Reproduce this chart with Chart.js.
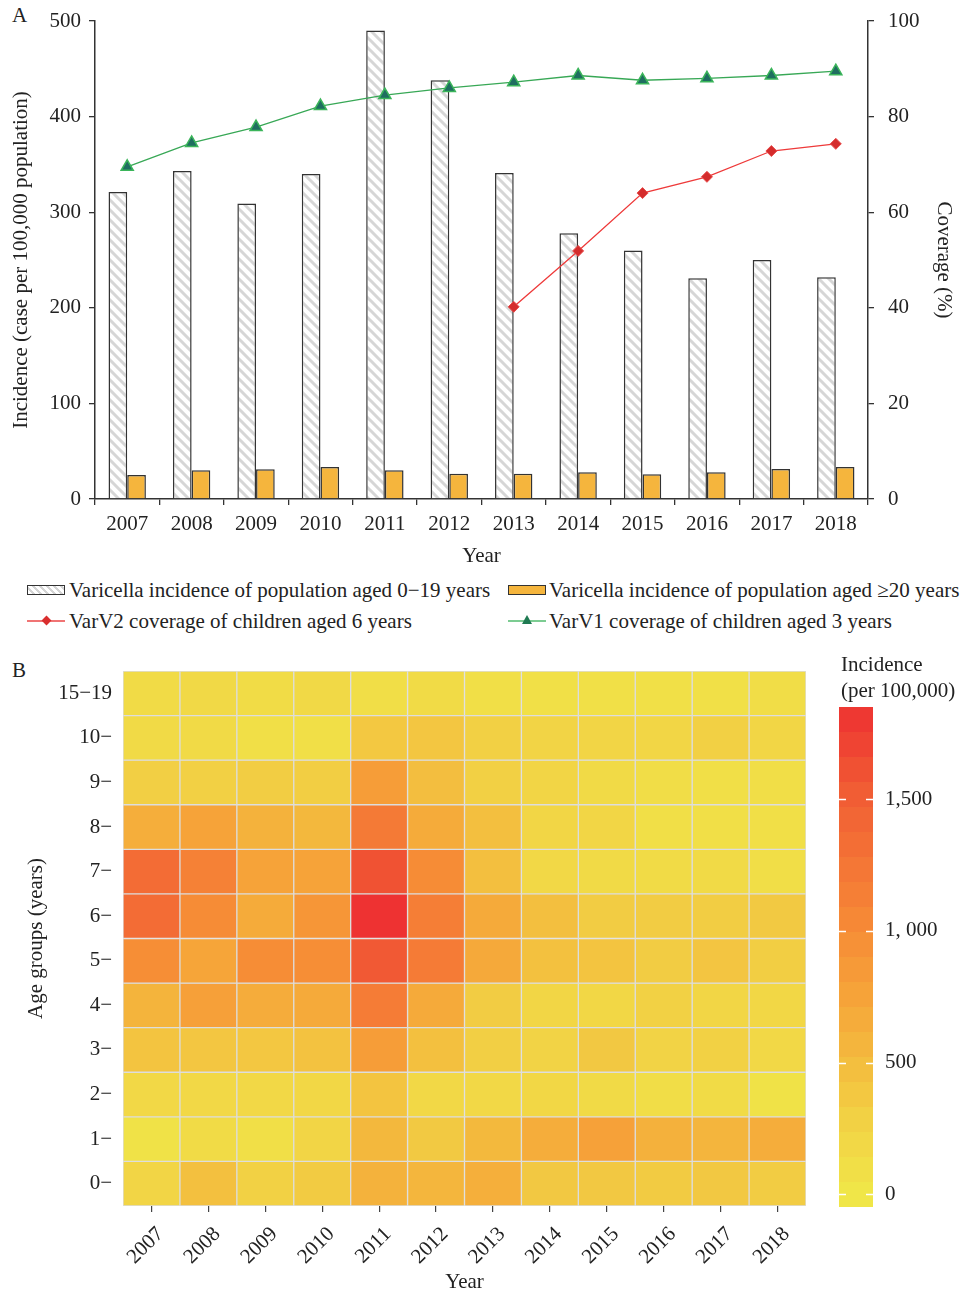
<!DOCTYPE html>
<html>
<head>
<meta charset="utf-8">
<script src="https://cdn.jsdelivr.net/npm/chart.js@4.4.1/dist/chart.umd.min.js"></script>
<style>
  body { margin: 0; background: #fff; width: 967px; height: 1295px; position: relative; overflow: hidden;
         font-family: 'Liberation Serif', 'Times New Roman', serif; color: #222; }
  .abs { position: absolute; }
  .txt { font-size: 21px; line-height: 24px; white-space: nowrap; }
  .hatch { background: repeating-linear-gradient(45deg, #fff 0 3px, #d4d4d4 3px 5px); border: 1px solid #333; box-sizing: border-box; }
  .orange { background: #f5b53d; border: 1.5px solid #333; box-sizing: border-box; }
</style>
</head>
<body>

<div class="abs txt" style="left:12px;top:3px">A</div>
<canvas id="chartA" class="abs" width="967" height="570" style="left:0;top:0"></canvas>

<!-- legend of panel A -->
<div class="abs hatch" style="left:27px;top:585px;width:38px;height:10px"></div>
<div class="abs txt" style="left:69px;top:578px">Varicella incidence of population aged 0−19 years</div>
<div class="abs orange" style="left:508px;top:585px;width:38px;height:10px"></div>
<div class="abs txt" style="left:549px;top:578px">Varicella incidence of population aged ≥20 years</div>

<div class="abs" style="left:27px;top:620px;width:38px;height:2px;background:#f07474"></div>
<div class="abs" style="left:43px;top:617px;width:7px;height:7px;background:#d92e2e;transform:rotate(45deg)"></div>
<div class="abs txt" style="left:69px;top:609px">VarV2 coverage of children aged 6 years</div>
<div class="abs" style="left:508px;top:620px;width:38px;height:2px;background:#7ccc92"></div>
<div class="abs" style="left:522px;top:615px;width:0;height:0;border-left:5px solid transparent;border-right:5px solid transparent;border-bottom:9px solid #1f7a52"></div>
<div class="abs txt" style="left:549px;top:609px">VarV1 coverage of children aged 3 years</div>

<div class="abs txt" style="left:12px;top:658px">B</div>
<canvas id="heat" class="abs" width="830" height="655" style="left:0;top:640px"></canvas>
<canvas id="cbar" class="abs" width="128" height="520" style="left:839px;top:700px"></canvas>
<div class="abs txt" style="left:841px;top:651px;line-height:26px">Incidence<br>(per 100,000)</div>

<script>
// ---- panel A data ----
const YEARS    = [2007, 2008, 2009, 2010, 2011, 2012, 2013, 2014, 2015, 2016, 2017, 2018];
const INC_0_19 = [321, 343, 309, 340, 490, 438, 341, 278, 260, 231, 250, 232];
const INC_20   = [25, 30, 31, 33.5, 30, 26.5, 26.5, 28, 26, 28, 31.5, 33.5];
const VARV2    = [null, null, null, null, null, null, 40.2, 51.9, 64.0, 67.4, 72.8, 74.3];
const VARV1    = [69.5, 74.5, 77.8, 82.2, 84.5, 86.0, 87.2, 88.6, 87.6, 88.0, 88.6, 89.5];
const INC_TICKS = [0, 100, 200, 300, 400, 500];
const COV_TICKS = [0, 20, 40, 60, 80, 100];

// ---- panel B data: incidence per 100,000 by age group, 2007..2018 ----
const AGE_LABELS = ['0−', '1−', '2−', '3−', '4−', '5−', '6−', '7−', '8−', '9−', '10−', '15−19'];
const AGE_0   = [230, 460, 280, 340, 600, 560, 640, 370, 370, 340, 370, 330];
const AGE_1   = [60, 150, 100, 230, 540, 360, 530, 660, 780, 610, 570, 660];
const AGE_2   = [200, 200, 190, 210, 420, 190, 190, 210, 170, 120, 150, 60];
const AGE_3   = [420, 400, 390, 440, 820, 460, 300, 260, 370, 260, 280, 190];
const AGE_4   = [580, 790, 670, 690, 1170, 690, 330, 220, 210, 280, 220, 210];
const AGE_5   = [980, 740, 990, 980, 1550, 1180, 700, 450, 420, 330, 410, 310];
const AGE_6   = [1350, 1000, 680, 900, 1850, 1150, 690, 470, 330, 330, 320, 360];
const AGE_7   = [1350, 1120, 760, 760, 1600, 1000, 470, 190, 170, 150, 160, 110];
const AGE_8   = [650, 760, 600, 540, 1200, 680, 470, 220, 220, 100, 100, 100];
const AGE_9   = [300, 290, 320, 310, 820, 480, 290, 230, 160, 120, 100, 110];
const AGE_10  = [160, 160, 100, 100, 380, 400, 290, 250, 240, 220, 290, 220];
const AGE_15  = [150, 180, 140, 180, 110, 150, 100, 80, 80, 90, 90, 120];
const HEAT_ROWS = [AGE_0, AGE_1, AGE_2, AGE_3, AGE_4, AGE_5, AGE_6, AGE_7, AGE_8, AGE_9, AGE_10, AGE_15];

// colour scale and colour bar
const CSCALE_VALUES = [0, 250, 500, 750, 1000, 1250, 1500, 1850];
const CSCALE_COLORS = [[240,230,72],[242,212,69],[243,188,62],[246,164,57],[246,140,54],[244,117,54],[241,95,52],[238,50,50]];
const CB_MIN = -48, CB_MAX = 1850, CB_BANDS = 20;
const CB_TICKS = [0, 500, 1000, 1500];
const CB_TICK_LABELS = ['0', '500', '1, 000', '1,500'];

const FONT = { family: "'Liberation Serif', 'Times New Roman', serif", size: 21 };
const INK  = '#222';
Chart.defaults.font.family = FONT.family;
Chart.defaults.color = INK;

function colorFor(v) {
  const vs = CSCALE_VALUES, cs = CSCALE_COLORS;
  if (v <= vs[0]) return 'rgb(' + cs[0].join(',') + ')';
  for (let i = 1; i < vs.length; i++) {
    if (v <= vs[i]) {
      const t = (v - vs[i - 1]) / (vs[i] - vs[i - 1]);
      const c = cs[i - 1].map((a, k) => Math.round(a + (cs[i][k] - a) * t));
      return 'rgb(' + c.join(',') + ')';
    }
  }
  return 'rgb(' + cs[cs.length - 1].join(',') + ')';
}

function makeHatch() {
  const s = 10;
  const c = document.createElement('canvas');
  c.width = s; c.height = s;
  const g = c.getContext('2d');
  g.fillStyle = '#fff';
  g.fillRect(0, 0, s, s);
  g.strokeStyle = '#d6d6d6';
  g.lineWidth = 3;
  g.beginPath();
  g.moveTo(-1, -1); g.lineTo(s + 1, s + 1);
  g.moveTo(-2, s - 2); g.lineTo(2, s + 2);
  g.moveTo(s - 2, -2); g.lineTo(s + 2, 2);
  g.stroke();
  return g.createPattern(c, 'repeat');
}

const fixedTicks = list => scale => { scale.ticks = list.map(v => ({ value: v })); };
// fixed axis thickness, no extra room for end labels
const fixW = w => s => { s.width = w; s.paddingTop = 0; s.paddingBottom = 0; };
const fixH = h => s => { s.height = h; s.paddingLeft = 0; s.paddingRight = 0; };

// ============ Panel A ============
new Chart(document.getElementById('chartA'), {
  data: {
    labels: YEARS,
    datasets: [
      { type: 'bar', label: 'Varicella incidence of population aged 0−19 years', data: INC_0_19, yAxisID: 'y',
        backgroundColor: makeHatch(), borderColor: '#333', borderWidth: 1.5, order: 1,
        barPercentage: 1, categoryPercentage: 0.58 },
      { type: 'bar', label: 'Varicella incidence of population aged ≥20 years', data: INC_20, yAxisID: 'y',
        backgroundColor: '#f5b53d', borderColor: '#333', borderWidth: 1.5, order: 1,
        barPercentage: 1, categoryPercentage: 0.58 },
      { type: 'line', label: 'VarV2 coverage of children aged 6 years', data: VARV2, yAxisID: 'y1', order: 0,
        borderColor: '#ee3a3a', borderWidth: 1.3, pointStyle: 'rectRot', pointRadius: 5.5,
        pointBackgroundColor: '#d42c2c', pointBorderColor: '#e84a4a', pointBorderWidth: 1 },
      { type: 'line', label: 'VarV1 coverage of children aged 3 years', data: VARV1, yAxisID: 'y1', order: 0,
        borderColor: '#38a856', borderWidth: 1.3, pointStyle: 'triangle', pointRadius: 7,
        pointBackgroundColor: '#1f6e60', pointBorderColor: '#3bb55a', pointBorderWidth: 1.5 },
    ],
  },
  options: {
    responsive: false, animation: false,
    layout: { padding: { top: 21, left: 0, right: 0, bottom: 0 } },
    plugins: { legend: { display: false }, tooltip: { enabled: false } },
    scales: {
      x: {
        grid: { drawOnChartArea: false, tickLength: 6, color: '#333', lineWidth: 1.3, offset: true },
        border: { color: '#333', width: 1.5 },
        ticks: { font: FONT, color: INK, padding: 7, maxRotation: 0 },
        title: { display: true, text: 'Year', font: FONT, color: INK, padding: { top: 0, bottom: 1 } },
        afterFit: fixH(71),
      },
      y: {
        position: 'left', min: 0, max: 500, afterBuildTicks: fixedTicks(INC_TICKS),
        grid: { drawOnChartArea: false, tickLength: 6, color: '#333', lineWidth: 1.3 },
        border: { color: '#333', width: 1.5 },
        ticks: { font: FONT, color: INK, padding: 8 },
        title: { display: true, text: 'Incidence (case per 100,000 population)', font: FONT, color: INK, padding: { top: 9, bottom: 0 } },
        afterFit: fixW(95),
      },
      y1: {
        position: 'right', min: 0, max: 100, afterBuildTicks: fixedTicks(COV_TICKS),
        grid: { drawOnChartArea: false, tickLength: 6, color: '#333', lineWidth: 1.3 },
        border: { color: '#333', width: 1.5 },
        ticks: { font: FONT, color: INK, padding: 14 },
        title: { display: true, text: 'Coverage (%)', font: FONT, color: INK, padding: { top: 11, bottom: 0 } },
        afterFit: fixW(99),
      },
    },
  },
});

// ============ Panel B: heat map ============
new Chart(document.getElementById('heat'), {
  type: 'bar',
  data: {
    labels: AGE_LABELS,
    datasets: YEARS.map((yr, j) => ({
      label: String(yr),
      data: AGE_LABELS.map(() => [yr - 0.5, yr + 0.5]),
      backgroundColor: HEAT_ROWS.map(row => colorFor(row[j])),
      borderColor: '#dddddd', borderWidth: 1, borderSkipped: false,
      grouped: false, barPercentage: 1, categoryPercentage: 1,
    })),
  },
  options: {
    indexAxis: 'y', responsive: false, animation: false,
    layout: { padding: { top: 31, right: 24, left: 0, bottom: 0 } },
    plugins: { legend: { display: false }, tooltip: { enabled: false } },
    scales: {
      x: {
        type: 'linear', min: YEARS[0] - 0.5, max: YEARS[YEARS.length - 1] + 0.5,
        afterBuildTicks: fixedTicks(YEARS),
        ticks: { callback: v => String(v), minRotation: 45, maxRotation: 45, font: FONT, color: INK, padding: 10, labelOffset: 9 },
        grid: { drawOnChartArea: false, tickLength: 6, color: '#444', lineWidth: 1.2 },
        border: { display: false },
        title: { display: true, text: 'Year', font: FONT, color: INK, padding: { top: 0, bottom: 0 } },
        afterFit: fixH(89),
      },
      y: {
        reverse: true,
        ticks: { font: FONT, color: INK, padding: 11 },
        grid: { display: false, drawTicks: false, tickLength: 0 },
        border: { display: false },
        title: { display: true, text: 'Age groups (years)', font: FONT, color: INK, padding: { top: 24, bottom: 0 } },
        afterFit: fixW(123),
      },
    },
  },
});

// ============ colour bar ============
function barGradient(chart) {
  const ys = chart.scales.y;
  if (!chart.chartArea || !ys) return colorFor(0);
  const y0 = ys.getPixelForValue(CB_MIN), y1 = ys.getPixelForValue(CB_MAX);
  const g = chart.ctx.createLinearGradient(0, y0, 0, y1);
  const step = (CB_MAX - CB_MIN) / CB_BANDS;
  for (let k = 0; k < CB_BANDS; k++) {
    const col = colorFor(CB_MIN + (k + 0.5) * step);
    g.addColorStop(k / CB_BANDS, col);
    g.addColorStop((k + 1) / CB_BANDS - 0.0005, col);
  }
  return g;
}

const whiteDashes = {
  id: 'whiteDashes',
  afterDatasetsDraw(chart) {
    const { ctx, chartArea: a, scales: { y } } = chart;
    ctx.save();
    ctx.strokeStyle = '#fff';
    ctx.lineWidth = 1.5;
    CB_TICKS.forEach(v => {
      const p = Math.round(y.getPixelForValue(v)) + 0.5;
      ctx.beginPath();
      ctx.moveTo(a.left, p); ctx.lineTo(a.left + 7, p);
      ctx.moveTo(a.right - 7, p); ctx.lineTo(a.right, p);
      ctx.stroke();
    });
    ctx.restore();
  },
};

new Chart(document.getElementById('cbar'), {
  type: 'bar',
  data: {
    labels: [''],
    datasets: [{ data: [[CB_MIN, CB_MAX]], backgroundColor: c => barGradient(c.chart),
                 borderWidth: 0, barPercentage: 1, categoryPercentage: 1 }],
  },
  options: {
    responsive: false, animation: false,
    layout: { padding: { top: 7, bottom: 13, left: 0, right: 0 } },
    plugins: { legend: { display: false }, tooltip: { enabled: false } },
    scales: {
      x: { display: false },
      y: {
        position: 'right', min: CB_MIN, max: CB_MAX, afterBuildTicks: fixedTicks(CB_TICKS),
        ticks: { callback: v => CB_TICK_LABELS[CB_TICKS.indexOf(v)], font: FONT, color: INK, padding: 12 },
        grid: { display: false, drawTicks: false, tickLength: 0 },
        border: { display: false },
        afterFit: fixW(94),
      },
    },
  },
  plugins: [whiteDashes],
});
</script>
</body>
</html>
